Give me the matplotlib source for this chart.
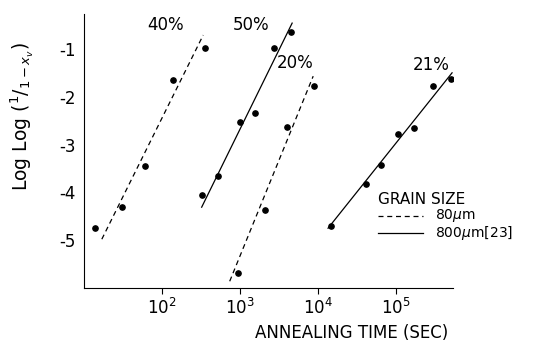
import numpy as np
import matplotlib
matplotlib.use("Agg")
import matplotlib.pyplot as plt

# measured points: annealing time (s) and log log (1/(1-Xv))
t_40 = [14, 31, 60, 138, 355]
v_40 = [-4.75, -4.31, -3.45, -1.65, -0.98]
t_50 = [324, 525, 1000, 1585, 2750, 4470]
v_50 = [-4.06, -3.65, -2.53, -2.35, -0.98, -0.64]
t_20 = [933, 2090, 3980, 8900]
v_20 = [-5.69, -4.37, -2.64, -1.77]
t_21 = [14800, 41700, 64600, 107000, 170000, 295000, 513000]
v_21 = [-4.70, -3.83, -3.43, -2.79, -2.66, -1.77, -1.63]

# fitted line end points
fit_t_40 = [17, 339]
fit_v_40 = [-4.98, -0.71]
fit_t_50 = [324, 4680]
fit_v_50 = [-4.31, -0.46]
fit_t_20 = [741, 8710]
fit_v_20 = [-5.86, -1.57]
fit_t_21 = [13500, 525000]
fit_v_21 = [-4.75, -1.50]

y_ticks = [-1, -2, -3, -4, -5]
x_ticks = [1e2, 1e3, 1e4, 1e5]

plt.rcParams['font.family'] = ['DejaVu Sans']
fig = plt.figure(figsize=(5.34, 3.42), dpi=100)
ax = fig.add_axes([0.157, 0.158, 0.691, 0.801])

dash = (0, (4, 3))
ax.plot(fit_t_40, fit_v_40, color='black', lw=0.9, linestyle=dash)
ax.plot(fit_t_50, fit_v_50, color='black', lw=0.9)
ax.plot(fit_t_20, fit_v_20, color='black', lw=0.9, linestyle=dash)
ax.plot(fit_t_21, fit_v_21, color='black', lw=0.9)
for t, v in [(t_40, v_40), (t_50, v_50), (t_20, v_20), (t_21, v_21)]:
    ax.plot(t, v, 'o', color='black', markersize=3.8)

ax.set_xscale('log')
ax.set_xlim(10 ** 1.0, 10 ** 5.73)
ax.set_ylim(-6.0, -0.27)
ax.spines['top'].set_visible(False)
ax.spines['right'].set_visible(False)
ax.set_xticks(x_ticks)
ax.set_xticklabels([r'$10^{2}$', r'$10^{3}$', r'$10^{4}$', r'$10^{5}$'], fontsize=12)
ax.xaxis.set_minor_locator(matplotlib.ticker.NullLocator())
ax.set_yticks(y_ticks)
ax.set_yticklabels(['-1', '-2', '-3', '-4', '-5'], fontsize=12)
ax.tick_params(axis='x', length=4, direction='out')
ax.tick_params(axis='y', length=0, pad=6)

ax.text(10 ** 1.81, -0.5, '40%', fontsize=12, va='center')
ax.text(10 ** 2.91, -0.5, '50%', fontsize=12, va='center')
ax.text(10 ** 3.47, -1.29, '20%', fontsize=12, va='center')
ax.text(10 ** 5.22, -1.34, '21%', fontsize=12, va='center')

ax.set_xlabel('ANNEALING TIME (SEC)', fontsize=12)
ax.xaxis.set_label_coords(0.726, -0.13)
ax.set_ylabel(r'Log Log ($^{1}/_{1-x_v}$)', fontsize=13.5)
ax.yaxis.set_label_coords(-0.13, 0.624)

# legend
ax.text(10 ** 4.77, -4.16, 'GRAIN SIZE', fontsize=11, va='center')
ax.plot([10 ** 4.77, 10 ** 5.35], [-4.49, -4.49], color='black', lw=0.9, linestyle=dash)
ax.plot([10 ** 4.77, 10 ** 5.35], [-4.84, -4.84], color='black', lw=0.9)
ax.text(10 ** 5.5, -4.49, r'80$\mu$m', fontsize=10, va='center')
ax.text(10 ** 5.5, -4.84, r'800$\mu$m[23]', fontsize=10, va='center')

fig.savefig('out.png', dpi=100)
